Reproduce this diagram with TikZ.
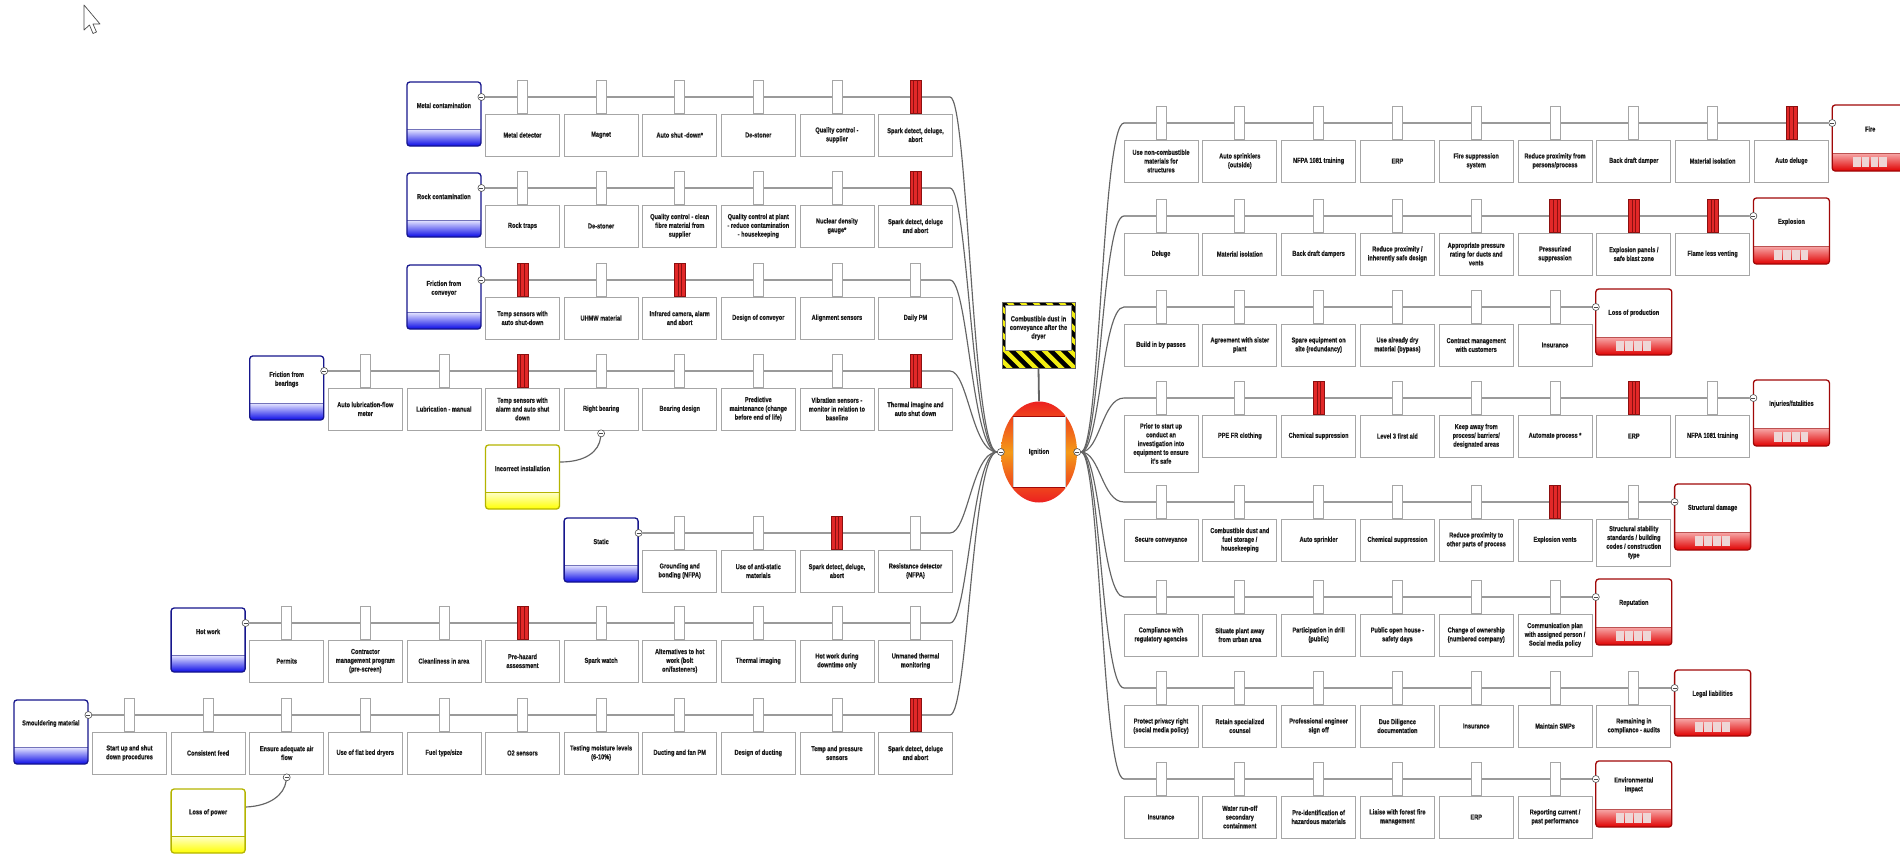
\documentclass[tikz,border=0pt]{standalone}
\usepackage{fontspec}
\newfontfamily\lblfont[FakeStretch=0.78,BoldFeatures={FakeBold=0.6}]{Liberation Sans}
\usetikzlibrary{shapes.geometric}
\definecolor{thrB}{HTML}{0A0AE6}
\definecolor{thrL}{HTML}{E4E4FF}
\definecolor{thrF}{HTML}{16168C}
\definecolor{conB}{HTML}{E00000}
\definecolor{conL}{HTML}{F7A8A8}
\definecolor{conF}{HTML}{A00808}
\definecolor{escB}{HTML}{FFFF00}
\definecolor{escL}{HTML}{FFFFC8}
\definecolor{escF}{HTML}{B4B400}
\definecolor{tabR}{HTML}{E22828}
\definecolor{tabD}{HTML}{8C1010}
\definecolor{lineC}{HTML}{646464}
\definecolor{txtC}{HTML}{1E1E1E}
\definecolor{hzY}{HTML}{F2EE10}
\definecolor{igRed}{HTML}{EC2020}
\definecolor{igOr}{HTML}{F49A18}
\definecolor{sqC}{HTML}{EED6D6}
\pgfdeclarelayer{back}
\pgfdeclarelayer{bg}
\pgfsetlayers{back,bg,main}
\pgfdeclareverticalshading{thrsh}{100bp}{color(0bp)=(thrB); color(25bp)=(thrB); color(38bp)=(thrL); color(38.3bp)=(white); color(100bp)=(white)}
\pgfdeclareverticalshading{consh}{100bp}{color(0bp)=(conB); color(25bp)=(conB); color(38.5bp)=(conL); color(38.8bp)=(white); color(100bp)=(white)}
\pgfdeclareverticalshading{escsh}{100bp}{color(0bp)=(escB); color(25bp)=(escB); color(38bp)=(escL); color(38.3bp)=(white); color(100bp)=(white)}
\tikzset{
 lbl/.style={font=\lblfont\bfseries\fontsize{7.2}{8.8}\selectfont, text=txtC, align=center, inner sep=0.5pt},
 bar/.style={lbl, draw=gray!70, line width=0.7pt, fill=white, minimum width=74, inner sep=1pt},
 wtab/.style={draw=gray!70, line width=0.7pt, fill=white, minimum width=10, minimum height=33, inner sep=0},
 rtab/.style={draw=tabD, line width=0.7pt, fill=tabR, minimum width=11, minimum height=33, inner sep=0,
   path picture={\draw[tabD,line width=0.6pt] ([xshift=-1.8pt]path picture bounding box.north) -- ([xshift=-1.8pt]path picture bounding box.south) ([xshift=1.8pt]path picture bounding box.north) -- ([xshift=1.8pt]path picture bounding box.south);}},
 conn/.style={draw=lineC, line width=1.15pt},
 mcirc/.style={circle, draw=gray!60!black, fill=white, line width=0.6pt, minimum size=7, inner sep=0,
   path picture={\draw[line width=0.6pt] ([xshift=-2pt]path picture bounding box.center) -- ([xshift=2pt]path picture bounding box.center);}},
 threat/.style={rectangle, rounded corners=3pt, draw=thrF, line width=1.3pt, shade, shading=thrsh, minimum width=74, minimum height=64, inner sep=0,
   path picture={\draw[sharp corners, thrF!60, line width=0.6pt] ([yshift=17pt]path picture bounding box.south west) -- ([yshift=17pt]path picture bounding box.south east);}},
 esc/.style={rectangle, rounded corners=3pt, draw=escF, line width=1.3pt, shade, shading=escsh, minimum width=74, minimum height=64, inner sep=0,
   path picture={\draw[sharp corners, escF, line width=0.6pt] ([yshift=17pt]path picture bounding box.south west) -- ([yshift=17pt]path picture bounding box.south east);}},
 cons/.style={rectangle, rounded corners=3pt, draw=conF, line width=1.3pt, shade, shading=consh, minimum width=76, minimum height=66, inner sep=0,
   path picture={\draw[sharp corners, conF!70, line width=0.6pt] ([yshift=18pt]path picture bounding box.south west) -- ([yshift=18pt]path picture bounding box.south east);
     \foreach \i in {0,1,2,3} \fill[sharp corners, sqC] ([shift={(-17.5+\i*8.9,-14)}]path picture bounding box.south) rectangle ++(7.8,10);}},
 haz/.style={rectangle, minimum width=73, minimum height=66, inner sep=0, fill=hzY, draw=black!60, line width=0.5pt,
   path picture={\foreach \i in {-7,...,7} \draw[black, line width=4.6pt] ([xshift=\i*13pt]path picture bounding box.north west) -- ++(72,72);
     \fill[white] ([shift={(3.5,3.5)}]path picture bounding box.north west) rectangle ([shift={(-3.5,-18)}]path picture bounding box.south east);
     \draw[black!50, line width=0.4pt] ([shift={(3.5,3.5)}]path picture bounding box.north west) rectangle ([shift={(-3.5,-18)}]path picture bounding box.south east);}}
}
% left barrier: [height] id, column, line y, text, tab style
\newcommand\lb[6][42]{%
 \node[#6] (#2t) at ({915.5-78.6*#3},#4) {};
 \node[bar,minimum height=#1] (#2) at ({915.5-78.6*#3},{#4+17+#1/2}) {#5};}
% right barrier
\newcommand\rb[6][42]{%
 \node[#6] (#2t) at ({1161+78.8*#3},#4) {};
 \node[bar,minimum height=#1] (#2) at ({1161+78.8*#3},{#4+17+#1/2}) {#5};}
% threat
\newcommand\thr[4]{%
 \node[threat] (#1) at ({915.5-78.6*#2},{#3+17}) {};
 \node[lbl] (#1-l) at ([yshift=8.5pt]#1.center) {#4};
 \node[mcirc] (#1-m) at ({953-78.6*#2},#3) {};}
% consequence
\newcommand\csq[4]{%
 \node[cons] (#1) at ({1161+78.8*#2},{#3+15}) {};
 \node[lbl] (#1-l) at ([yshift=9pt]#1.center) {#4};
 \node[mcirc] (#1-m) at ({1123+78.8*#2},#3) {};}
\begin{document}
\begin{tikzpicture}[x=1pt,y=-1pt]
\useasboundingbox (0,0) rectangle (1900,855);
\begin{pgfonlayer}{back}
\fill[white] (0,0) rectangle (1900,855);
\end{pgfonlayer}
% mouse cursor
\draw[gray!60!black, fill=white, line width=0.7pt, line join=round] (84,5) -- (84,30) -- (89.5,25) -- (93,33.5) -- (96.5,32) -- (93,24) -- (100,24) -- cycle;

% ---------- centre ----------
\node[haz] (hz) at (1038.5,335) {};
\node[lbl, font=\lblfont\bfseries\fontsize{7.4}{8.6}\selectfont] (hz-l) at ([yshift=7pt]hz.center) {Combustible dust in\\conveyance after the\\dryer};
\node[ellipse, minimum width=76, minimum height=101, inner sep=0, top color=igRed, bottom color=igRed, middle color=igOr] (ign) at (1039,452) {};
\node[lbl, fill=white, draw=gray!40, line width=0.4pt, minimum width=52, minimum height=71, inner sep=0] (ignb) at (ign.center) {Ignition};
\draw[conF, line width=1.3pt] (ignb.north west) -- (ignb.north east) (ignb.south west) -- (ignb.south east);
\node[mcirc] (igL) at (ign.west) {};
\node[mcirc] (igR) at (ign.east) {};

% ---------- left: threats ----------
\thr{tA}{6}{97}{Metal contamination}
\lb{a1}{5}{97}{Metal detector}{wtab}
\lb{a2}{4}{97}{Magnet}{wtab}
\lb{a3}{3}{97}{Auto shut -down*}{wtab}
\lb{a4}{2}{97}{De-stoner}{wtab}
\lb{a5}{1}{97}{Quality control -\\supplier}{wtab}
\lb{a6}{0}{97}{Spark detect, deluge,\\abort}{rtab}

\thr{tB}{6}{188}{Rock contamination}
\lb{b1}{5}{188}{Rock traps}{wtab}
\lb{b2}{4}{188}{De-stoner}{wtab}
\lb{b3}{3}{188}{Quality control - clean\\fibre material from\\supplier}{wtab}
\lb{b4}{2}{188}{Quality control at plant\\- reduce contamination\\- housekeeping}{wtab}
\lb{b5}{1}{188}{Nuclear density\\gauge*}{wtab}
\lb{b6}{0}{188}{Spark detect, deluge\\and abort}{rtab}

\thr{tC}{6}{280}{Friction from\\conveyor}
\lb{c1}{5}{280}{Temp sensors with\\auto shut-down}{rtab}
\lb{c2}{4}{280}{UHMW material}{wtab}
\lb{c3}{3}{280}{Infrared camera, alarm\\and abort}{rtab}
\lb{c4}{2}{280}{Design of conveyor}{wtab}
\lb{c5}{1}{280}{Alignment sensors}{wtab}
\lb{c6}{0}{280}{Daily PM}{wtab}

\thr{tD}{8}{371}{Friction from\\bearings}
\lb{d1}{7}{371}{Auto lubrication-flow\\meter}{wtab}
\lb{d2}{6}{371}{Lubrication - manual}{wtab}
\lb{d3}{5}{371}{Temp sensors with\\alarm and auto shut\\down}{rtab}
\lb{d4}{4}{371}{Right bearing}{wtab}
\lb{d5}{3}{371}{Bearing design}{wtab}
\lb{d6}{2}{371}{Predictive\\maintenance (change\\before end of life)}{wtab}
\lb{d7}{1}{371}{Vibration sensors -\\monitor in relation to\\baseline}{wtab}
\lb{d8}{0}{371}{Thermal imagine and\\auto shut down}{rtab}

\thr{tE}{4}{533}{Static}
\lb{e1}{3}{533}{Grounding and\\bonding (NFPA)}{wtab}
\lb{e2}{2}{533}{Use of anti-static\\materials}{wtab}
\lb{e3}{1}{533}{Spark detect, deluge,\\abort}{rtab}
\lb{e4}{0}{533}{Resistance detector\\(NFPA)}{wtab}

\thr{tF}{9}{623}{Hot work}
\lb{f1}{8}{623}{Permits}{wtab}
\lb{f2}{7}{623}{Contractor\\management program\\(pre-screen)}{wtab}
\lb{f3}{6}{623}{Cleanliness in area}{wtab}
\lb{f4}{5}{623}{Pre-hazard\\assessment}{rtab}
\lb{f5}{4}{623}{Spark watch}{wtab}
\lb{f6}{3}{623}{Alternatives to hot\\work (bolt\\on/fasteners)}{wtab}
\lb{f7}{2}{623}{Thermal imaging}{wtab}
\lb{f8}{1}{623}{Hot work during\\downtime only}{wtab}
\lb{f9}{0}{623}{Unmaned thermal\\monitoring}{wtab}

\thr{tG}{11}{715}{Smouldering material}
\lb{g1}{10}{715}{Start up and shut\\down procedures}{wtab}
\lb{g2}{9}{715}{Consistent feed}{wtab}
\lb{g3}{8}{715}{Ensure adequate air\\flow}{wtab}
\lb{g4}{7}{715}{Use of flat bed dryers}{wtab}
\lb{g5}{6}{715}{Fuel type/size}{wtab}
\lb{g6}{5}{715}{O2 sensors}{wtab}
\lb{g7}{4}{715}{Testing moisture levels\\(6-10\%)}{wtab}
\lb{g8}{3}{715}{Ducting and fan PM}{wtab}
\lb{g9}{2}{715}{Design of ducting}{wtab}
\lb{g10}{1}{715}{Temp and pressure\\sensors}{wtab}
\lb{g11}{0}{715}{Spark detect, deluge\\and abort}{rtab}

% escalation factors
\node[mcirc] (d4-m) at ([yshift=-3pt]d4.south) {};
\node[esc] (x1) at (522.5,477) {};
\node[lbl] (x1-l) at ([yshift=8.5pt]x1.center) {Incorrect installation};
\node[mcirc] (g3-m) at ([yshift=-3pt]g3.south) {};
\node[esc] (x2) at (208.1,821) {};
\node[lbl] (x2-l) at ([yshift=8.5pt]x2.center) {Loss of power};

% ---------- right: consequences ----------
\csq{cA}{9}{123}{Fire}
\rb{r11}{0}{123}{Use non-combustible\\materials for\\structures}{wtab}
\rb{r12}{1}{123}{Auto sprinklers\\(outside)}{wtab}
\rb{r13}{2}{123}{NFPA 1081 training}{wtab}
\rb{r14}{3}{123}{ERP}{wtab}
\rb{r15}{4}{123}{Fire suppression\\system}{wtab}
\rb{r16}{5}{123}{Reduce proximity from\\persons/process}{wtab}
\rb{r17}{6}{123}{Back draft damper}{wtab}
\rb{r18}{7}{123}{Material isolation}{wtab}
\rb{r19}{8}{123}{Auto deluge}{rtab}

\csq{cB}{8}{216}{Explosion}
\rb{r21}{0}{216}{Deluge}{wtab}
\rb{r22}{1}{216}{Material isolation}{wtab}
\rb{r23}{2}{216}{Back draft dampers}{wtab}
\rb{r24}{3}{216}{Reduce proximity /\\inherently safe design}{wtab}
\rb{r25}{4}{216}{Appropriate pressure\\rating for ducts and\\vents}{wtab}
\rb{r26}{5}{216}{Pressurized\\suppression}{rtab}
\rb{r27}{6}{216}{Explosion panels /\\safe blast zone}{rtab}
\rb{r28}{7}{216}{Flame less venting}{rtab}

\csq{cC}{6}{307}{Loss of production}
\rb{r31}{0}{307}{Build in by passes}{wtab}
\rb{r32}{1}{307}{Agreement with sister\\plant}{wtab}
\rb{r33}{2}{307}{Spare equipment on\\site (redundancy)}{wtab}
\rb{r34}{3}{307}{Use already dry\\material (bypass)}{wtab}
\rb{r35}{4}{307}{Contract management\\with customers}{wtab}
\rb{r36}{5}{307}{Insurance}{wtab}

\csq{cD}{8}{398}{Injuries/fatalities}
\rb[57]{r41}{0}{398}{Prior to start up\\conduct an\\investigation into\\equipment to ensure\\it's safe}{wtab}
\rb{r42}{1}{398}{PPE FR clothing}{wtab}
\rb{r43}{2}{398}{Chemical suppression}{rtab}
\rb{r44}{3}{398}{Level 3 first aid}{wtab}
\rb{r45}{4}{398}{Keep away from\\process/ barriers/\\designated areas}{wtab}
\rb{r46}{5}{398}{Automate process *}{wtab}
\rb{r47}{6}{398}{ERP}{rtab}
\rb{r48}{7}{398}{NFPA 1081 training}{wtab}

\csq{cE}{7}{502}{Structural damage}
\rb{r51}{0}{502}{Secure conveyance}{wtab}
\rb{r52}{1}{502}{Combustible dust and\\fuel storage /\\housekeeping}{wtab}
\rb{r53}{2}{502}{Auto sprinkler}{wtab}
\rb{r54}{3}{502}{Chemical suppression}{wtab}
\rb{r55}{4}{502}{Reduce proximity to\\other parts of process}{wtab}
\rb{r56}{5}{502}{Explosion vents}{rtab}
\rb[47]{r57}{6}{502}{Structural stability\\standards / building\\codes / construction\\type}{wtab}

\csq{cF}{6}{597}{Reputation}
\rb{r61}{0}{597}{Compliance with\\regulatory agencies}{wtab}
\rb{r62}{1}{597}{Situate plant away\\from urban area}{wtab}
\rb{r63}{2}{597}{Participation in drill\\(public)}{wtab}
\rb{r64}{3}{597}{Public open house -\\safety days}{wtab}
\rb{r65}{4}{597}{Change of ownership\\(numbered company)}{wtab}
\rb{r66}{5}{597}{Communication plan\\with assigned person /\\Social media policy}{wtab}

\csq{cG}{7}{688}{Legal liabilities}
\rb{r71}{0}{688}{Protect privacy right\\(social media policy)}{wtab}
\rb{r72}{1}{688}{Retain specialized\\counsel}{wtab}
\rb{r73}{2}{688}{Professional engineer\\sign off}{wtab}
\rb{r74}{3}{688}{Due Diligence\\documentation}{wtab}
\rb{r75}{4}{688}{Insurance}{wtab}
\rb{r76}{5}{688}{Maintain SMPs}{wtab}
\rb{r77}{6}{688}{Remaining in\\compliance - audits}{wtab}

\csq{cH}{6}{779}{Environmental\\impact}
\rb{r81}{0}{779}{Insurance}{wtab}
\rb{r82}{1}{779}{Water run-off\\secondary\\containment}{wtab}
\rb{r83}{2}{779}{Pre-identification of\\hazardous materials}{wtab}
\rb{r84}{3}{779}{Liaise with forest fire\\management}{wtab}
\rb{r85}{4}{779}{ERP}{wtab}
\rb{r86}{5}{779}{Reporting current /\\past performance}{wtab}

% ---------- connectors ----------
\begin{pgfonlayer}{bg}
\draw[lineC, line width=1.8pt] (hz.south) -- (ign.north);
\foreach \n/\y in {tA/97,tB/188,tC/280,tD/371,tE/533,tF/623,tG/715}
  \draw[conn] (\n-m) -- (950,\y) .. controls (968,\y) and (972,452) .. (igL);
\foreach \n/\y in {cA/123,cB/216,cC/307,cD/398,cE/502,cF/597,cG/688,cH/779}
  \draw[conn] (igR) .. controls (1100,452) and (1102,\y) .. (1124,\y) -- (\n-m);
\draw[conn] (d4-m) .. controls (599,452) and (585,462) .. ([yshift=15pt]x1.east);
\draw[conn] (g3-m) .. controls (284,795) and (270,806) .. ([yshift=14pt]x2.east);
\end{pgfonlayer}
\end{tikzpicture}
\end{document}
